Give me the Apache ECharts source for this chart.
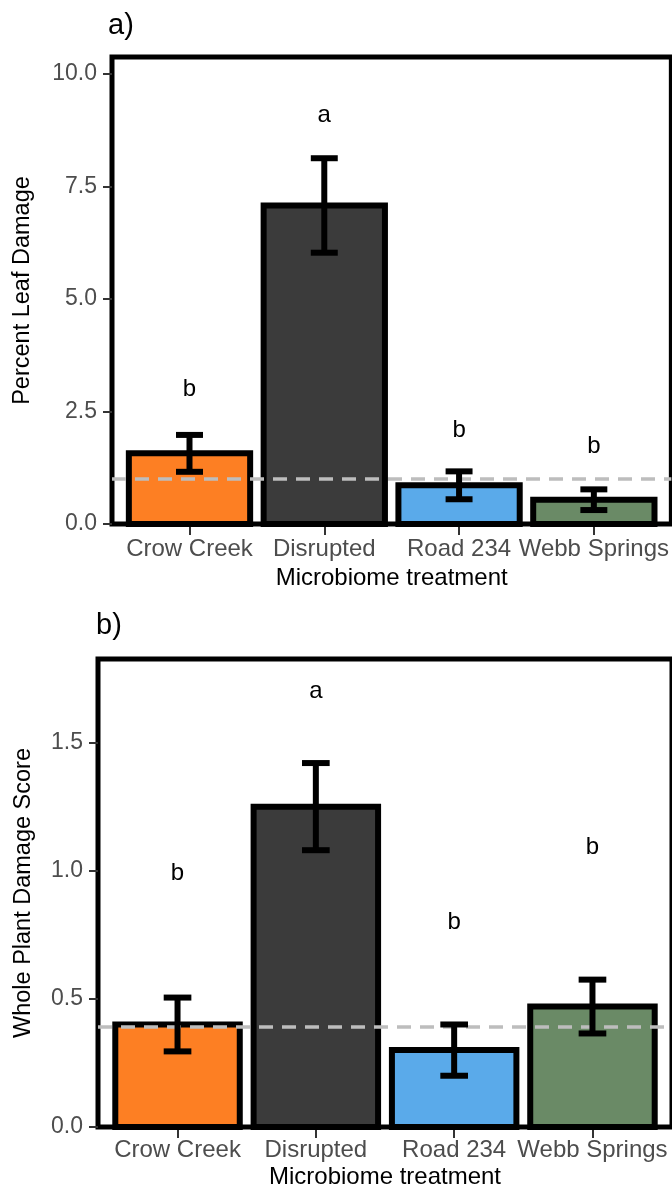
<!DOCTYPE html>
<html>
<head>
<meta charset="utf-8">
<script src="https://cdn.jsdelivr.net/npm/echarts@6/dist/echarts.min.js"></script>
<style>
html,body{margin:0;padding:0;background:#fff;}
#chart{width:672px;height:1190px;}
</style>
</head>
<body>
<div id="chart"></div>
<script>
// ---- data ----
const categories = ['Crow Creek', 'Disrupted', 'Road 234', 'Webb Springs'];
const categoryPos = [1, 2, 3, 4];
const barColors = ['#fd7f23', '#3b3b3b', '#5aaaea', '#6a8a66'];

const leafMean = [1.57, 7.08, 0.86, 0.54];
const leafSE = [0.41, 1.05, 0.31, 0.23];
const leafLetters = ['b', 'a', 'b', 'b'];
const leafLetterY = [3.0, 9.08, 2.07, 1.73];
const leafRef = 1.0;
const leafTicks = [0, 2.5, 5, 7.5, 10];

const wholeMean = [0.40, 1.25, 0.30, 0.47];
const wholeSE = [0.105, 0.17, 0.10, 0.105];
const wholeLetters = ['b', 'a', 'b', 'b'];
const wholeLetterY = [0.99, 1.70, 0.80, 1.09];
const wholeRef = 0.39;
const wholeTicks = [0, 0.5, 1.0, 1.5];

const FONT = '"Liberation Sans", Arial, sans-serif';
const XMIN = 0.425, XMAX = 4.575;

function barItem(params, api) {
  const x = api.value(0), y = api.value(1);
  const p0 = api.coord([x - 0.45, y]);
  const p1 = api.coord([x + 0.45, 0]);
  return {
    type: 'rect',
    shape: { x: p0[0], y: p0[1], width: p1[0] - p0[0], height: p1[1] - p0[1] },
    style: { fill: api.visual('color'), stroke: '#000', lineWidth: 6, lineJoin: 'miter' }
  };
}
function errItem(params, api) {
  const x = api.value(0), lo = api.value(1), hi = api.value(2);
  const top = api.coord([x, hi]);
  const bot = api.coord([x, lo]);
  const half = api.size([0.1, 0])[0];
  const st = { stroke: '#000', lineWidth: 6, lineCap: 'butt' };
  return {
    type: 'group',
    children: [
      { type: 'line', shape: { x1: top[0], y1: top[1], x2: bot[0], y2: bot[1] }, style: st },
      { type: 'line', shape: { x1: top[0] - half, y1: top[1], x2: top[0] + half, y2: top[1] }, style: st },
      { type: 'line', shape: { x1: bot[0] - half, y1: bot[1], x2: bot[0] + half, y2: bot[1] }, style: st }
    ]
  };
}
const letterSets = {};
function letterItem(params, api) {
  const p = api.coord([api.value(0), api.value(1)]);
  return {
    type: 'text',
    x: p[0], y: p[1],
    style: { text: letterSets[params.seriesIndex][params.dataIndex], fontSize: 24, fontFamily: FONT, fill: '#000', align: 'center', verticalAlign: 'middle' }
  };
}

function panelSeries(gi, mean, se, letters, letterY, ref, seriesBase) {
  letterSets[seriesBase + 3] = letters;
  return [
    {
      type: 'custom', xAxisIndex: gi, yAxisIndex: gi, z: 2,
      renderItem: barItem,
      data: categoryPos.map((x, i) => ({ value: [x, mean[i]], itemStyle: { color: barColors[i] } }))
    },
    {
      type: 'line', xAxisIndex: gi, yAxisIndex: gi, z: 3,
      symbol: 'none', silent: true,
      lineStyle: { color: '#bdbdbd', width: 3.5, type: [14, 9] },
      data: [[XMIN, ref], [XMAX, ref]]
    },
    {
      type: 'custom', xAxisIndex: gi, yAxisIndex: gi, z: 4,
      renderItem: errItem,
      data: categoryPos.map((x, i) => [x, mean[i] - se[i], mean[i] + se[i]])
    },
    {
      type: 'custom', xAxisIndex: gi, yAxisIndex: gi, z: 5,
      renderItem: letterItem,
      data: categoryPos.map((x, i) => [x, letterY[i]])
    }
  ];
}

function xAxis(gi, nameGap, margin) {
  return {
    type: 'value', gridIndex: gi, min: XMIN, max: XMAX,
    axisLine: { show: false },
    splitLine: { show: false },
    axisTick: { show: true, customValues: categoryPos, length: 11, lineStyle: { color: '#333', width: 2 } },
    axisLabel: { customValues: categoryPos, formatter: v => categories[Math.round(v) - 1], fontSize: 24, color: '#4d4d4d', fontFamily: FONT, margin: margin },
    name: 'Microbiome treatment', nameLocation: 'middle', nameGap: nameGap,
    nameTextStyle: { fontSize: 24, color: '#000', fontFamily: FONT }
  };
}
function yAxis(gi, max, ticks, name, nameGap) {
  return {
    type: 'value', gridIndex: gi, min: 0, max: max,
    axisLine: { show: false },
    splitLine: { show: false },
    axisTick: { show: true, customValues: ticks, length: 9, lineStyle: { color: '#333', width: 2 } },
    axisLabel: { customValues: ticks, formatter: v => v.toFixed(1), fontSize: 23, color: '#4d4d4d', fontFamily: FONT, margin: 15 },
    name: name, nameLocation: 'middle', nameGap: nameGap,
    nameTextStyle: { fontSize: 23.5, color: '#000', fontFamily: FONT }
  };
}

const chart = echarts.init(document.getElementById('chart'), null, { renderer: 'canvas' });
chart.setOption({
  animation: false,
  backgroundColor: '#fff',
  grid: [
    { left: 112, top: 57, width: 563, height: 467, show: true, borderColor: '#000', borderWidth: 5, backgroundColor: 'transparent' },
    { left: 98, top: 659, width: 579, height: 468, show: true, borderColor: '#000', borderWidth: 5, backgroundColor: 'transparent' }
  ],
  xAxis: [xAxis(0, 42, 13), xAxis(1, 38, 11)],
  yAxis: [
    yAxis(0, 10.38, leafTicks, 'Percent Leaf Damage', 77),
    yAxis(1, 1.826, wholeTicks, 'Whole Plant Damage Score', 62)
  ],
  graphic: [
    { type: 'text', left: 108, top: 11, style: { text: 'a)', fontSize: 29, fontFamily: FONT, fill: '#000' } },
    { type: 'text', left: 96, top: 611, style: { text: 'b)', fontSize: 29, fontFamily: FONT, fill: '#000' } }
  ],
  series: [
    ...panelSeries(0, leafMean, leafSE, leafLetters, leafLetterY, leafRef, 0),
    ...panelSeries(1, wholeMean, wholeSE, wholeLetters, wholeLetterY, wholeRef, 4)
  ]
});
</script>
</body>
</html>
